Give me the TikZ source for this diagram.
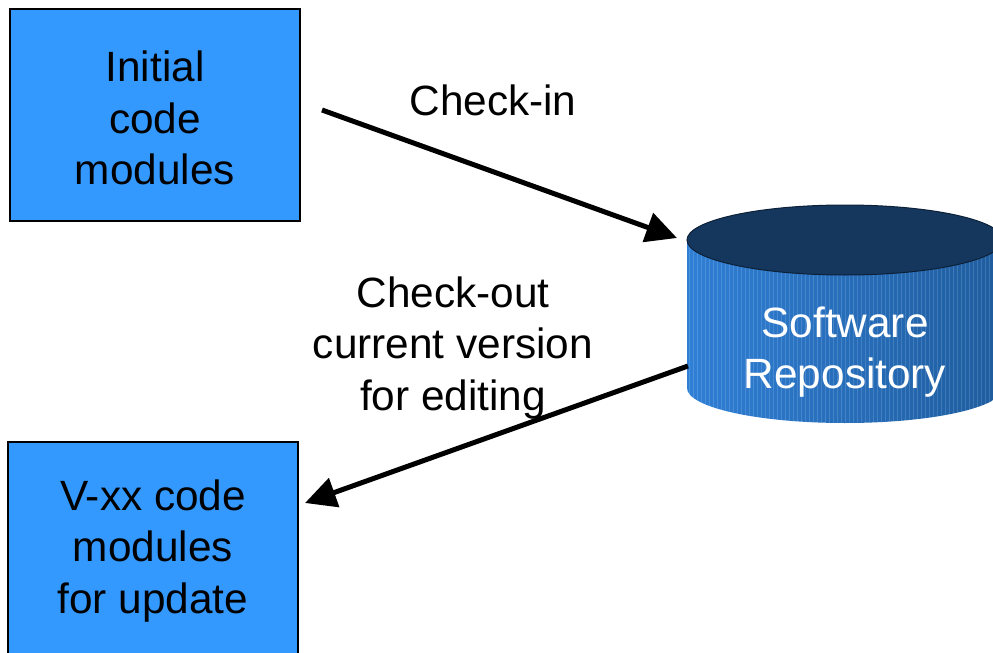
\documentclass[tikz,border=0pt]{standalone}
\usepackage{fontspec}
\setmainfont{Liberation Sans}
\usetikzlibrary{arrows.meta}
\definecolor{boxblue}{HTML}{3399FF}
\definecolor{sideL}{HTML}{2F7FD6}
\definecolor{sideR}{HTML}{1E5C9E}
\definecolor{lidblue}{HTML}{15375E}
\tikzset{
  module/.style={draw=black, line width=1.5bp, fill=boxblue, minimum width=290bp,
    minimum height=212bp, inner sep=0pt, align=center, font=\fontsize{42.5}{51.5}\selectfont},
  label/.style={align=center, font=\fontsize{42.5}{51.5}\selectfont, inner sep=0pt},
  flow/.style={line width=5bp, -{Triangle[length=31bp,width=30bp]}},
}
\begin{document}
\begin{tikzpicture}[x=1bp,y=-1bp]
\useasboundingbox (0,0) rectangle (993,653);
\clip (0,0) rectangle (993,653);

% code module boxes (text sits a little below centre)
\node[module] (init) at (155,115) {};
\node[align=center, inner sep=0pt, font=\fontsize{42.5}{51.5}\selectfont] (initText) at (155,118) {Initial\\code\\modules};
\node[module] (vxx) at (153,548) {};
\node[align=center, inner sep=0pt, font=\fontsize{42.5}{51.5}\selectfont] (vxxText) at (153,551) {V-xx code\\modules\\for update};

% repository cylinder: side with gradient and fine vertical streaks
\begin{scope}
  \clip (687,240) -- (687,388) arc[start angle=180, end angle=0, x radius=158, y radius=35]
        -- (1003,240) -- cycle;
  \shade[left color=sideL, right color=sideR] (687,200) rectangle (1003,430);
  \foreach \i in {0,...,78} {
    \draw[white, opacity=0.14, line width=0.6bp] ({689+4*\i},240) -- ({689+4*\i},430);
  }
\end{scope}
\fill[lidblue] (845,240) ellipse[x radius=158, y radius=35];
\draw[black!40!lidblue, line width=1bp] (845,240) ellipse[x radius=158, y radius=35];
\node[label, text=white] (repo) at (845,352) {Software\\Repository};

% connector end points
\coordinate (inOut) at (322,110);
\coordinate (inTip) at (677,238);
\coordinate (outStart) at (688,366);
\coordinate (outTip) at (305,503);

\draw[flow] (inOut) -- (inTip);
\draw[flow] (outStart) -- (outTip);

% connector labels
\node[label] (checkin) at (493,100) {Check-in};
\node[label] (checkout) at (453,348) {Check-out\\current version\\for editing};
\end{tikzpicture}
\end{document}
